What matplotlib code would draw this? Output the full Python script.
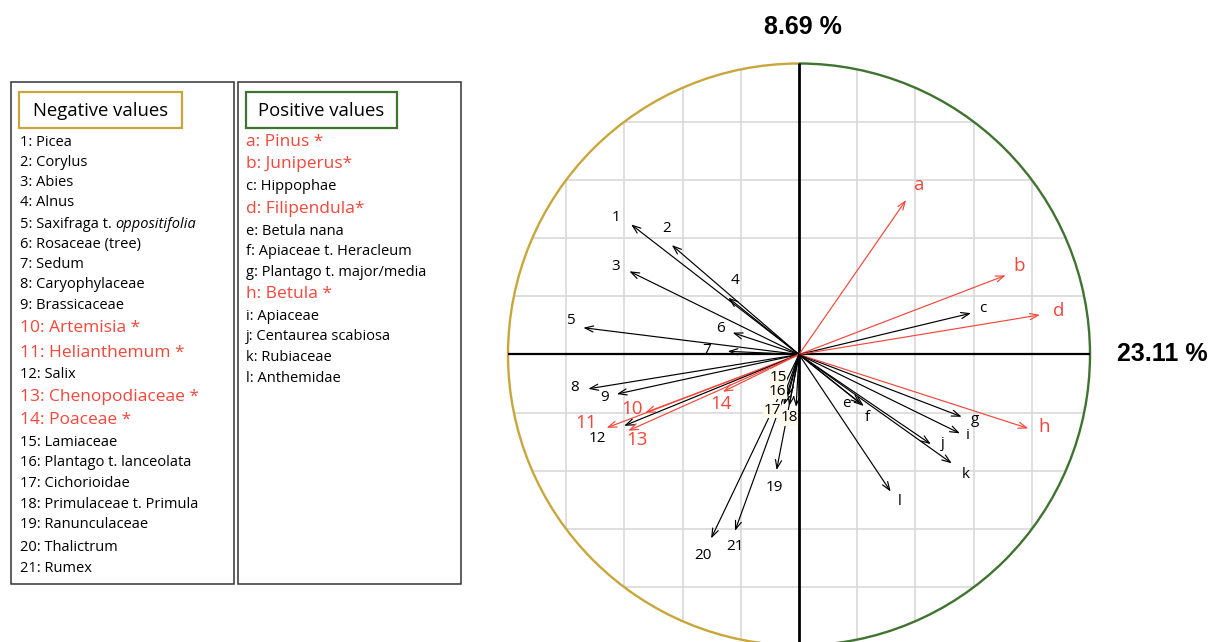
import matplotlib
matplotlib.use("Agg")
import matplotlib.pyplot as plt
from matplotlib.patches import Rectangle, Circle, Arc
import numpy as np

# ---------------- data ----------------
neg_ids = [str(i) for i in range(1, 22)]
neg_names = ["Picea", "Corylus", "Abies", "Alnus", "Saxifraga t. |oppositifolia",
             "Rosaceae (tree)", "Sedum", "Caryophylaceae", "Brassicaceae",
             "Artemisia *", "Helianthemum *", "Salix", "Chenopodiaceae *", "Poaceae *",
             "Lamiaceae", "Plantago t. lanceolata", "Cichorioidae",
             "Primulaceae t. Primula", "Ranunculaceae", "Thalictrum", "Rumex"]
neg_sig = [False]*9 + [True, True, False, True, True] + [False]*7
neg_x = [-0.577, -0.437, -0.583, -0.243, -0.741, -0.228, -0.245, -0.724, -0.626,
         -0.529, -0.661, -0.601, -0.587, -0.262, -0.038, -0.052, -0.034, -0.010,
         -0.077, -0.302, -0.220]
neg_y = [0.447, 0.376, 0.286, 0.195, 0.092, 0.075, 0.011, -0.118, -0.136,
         -0.200, -0.252, -0.245, -0.262, -0.128, -0.143, -0.174, -0.177, -0.180,
         -0.397, -0.632, -0.606]

pos_ids = list("abcdefghijkl")
pos_names = ["Pinus *", "Juniperus*", "Hippophae", "Filipendula*", "Betula nana",
             "Apiaceae t. Heracleum", "Plantago t. major/media", "Betula *",
             "Apiaceae", "Centaurea scabiosa", "Rubiaceae", "Anthemidae"]
pos_sig = [True, True, False, True, False, False, False, True, False, False, False, False]
pos_x = [0.368, 0.710, 0.591, 0.828, 0.213, 0.223, 0.559, 0.788, 0.553, 0.453, 0.525, 0.315]
pos_y = [0.531, 0.272, 0.142, 0.136, -0.170, -0.177, -0.214, -0.254, -0.271, -0.308, -0.374, -0.471]

axis1_label = "23.11 %"
axis2_label = "8.69 %"

# ---------------- layout / style ----------------
# label offsets from arrow tips (pixels, y up)
neg_off = [(-15, 7), (-5, 17), (-14, 5), (7, 17), (-13, 7), (-12, 4), (-21, 1),
           (-14, 1), (-12, -3), (-13, 4), (-21, 5), (-27, -13), (9, -9), (-2, -12),
           (-10, 19), (-6, 14), (-17, -4), (-7, -11), (-2, -17), (-8, -17), (0, -16)]
pos_off = [(12, 15), (14, 9), (12, 5), (19, 4), (-15, 0), (3, -11), (13, -3),
           (16, 1), (8, -2), (12, 1), (14, -11), (9, -10)]

W, H = 1210, 642
R, CX, CY = 291.0, 799.0, 354.5
RED = "#f4473b"
GOLD = "#c9a63b"
GREEN = "#3f7430"
GRID = "#d9d9d9"
FONT = ["Open Sans", "DejaVu Sans"]

plt.rcParams["font.family"] = FONT

fig = plt.figure(figsize=(W/100, H/100), dpi=100)

# ---------------- circle plot ----------------
x0, x1, y0, y1 = -1.35, 1.4, -1.0, 1.22
ax = fig.add_axes([(CX + x0*R)/W, ((H - CY) + y0*R)/H, (x1 - x0)*R/W, (y1 - y0)*R/H])
ax.set_xlim(x0, x1)
ax.set_ylim(y0, y1)
ax.axis("off")

clip = Circle((0, 0), 1.0, transform=ax.transData)
for v in [-0.8, -0.6, -0.4, -0.2, 0.2, 0.4, 0.6, 0.8]:
    l1, = ax.plot([v, v], [-1.2, 1.2], color=GRID, lw=1.2, zorder=1)
    l2, = ax.plot([-1.2, 1.2], [v, v], color=GRID, lw=1.2, zorder=1)
    l1.set_clip_path(clip)
    l2.set_clip_path(clip)

ax.add_patch(Arc((0, 0), 2, 2, theta1=90, theta2=270, color=GOLD, lw=1.7, zorder=2))
ax.add_patch(Arc((0, 0), 2, 2, theta1=-90, theta2=90, color=GREEN, lw=1.7, zorder=2))
ax.plot([-1, 1], [0, 0], color="black", lw=1.6, zorder=3, solid_capstyle="butt")
ax.plot([0, 0], [-1.1, 1.0], color="black", lw=2.0, zorder=3, solid_capstyle="butt",
        clip_on=False)


def draw_vec(x, y, lab, sig, off, small_bg=False):
    col = RED if sig else "black"
    ax.annotate("", xy=(x, y), xytext=(0, 0),
                arrowprops=dict(arrowstyle="->,head_length=0.6,head_width=0.22",
                                color=col, lw=0.85, shrinkA=0, shrinkB=0,
                                mutation_scale=10), zorder=4)
    kw = {}
    if small_bg:
        kw["bbox"] = dict(boxstyle="square,pad=0.02", fc="#fcfaec", ec="none")
    ax.annotate(lab, xy=(x, y), xytext=off, textcoords="offset pixels",
                ha="center", va="center", color=col,
                fontsize=13.5 if sig else 11, zorder=6, **kw)


for i in range(len(neg_x)):
    draw_vec(neg_x[i], neg_y[i], neg_ids[i], neg_sig[i], neg_off[i],
             small_bg=(15 <= i + 1 <= 18))
for i in range(len(pos_x)):
    draw_vec(pos_x[i], pos_y[i], pos_ids[i], pos_sig[i], pos_off[i])

fig.text(803/W, 1 - 27/H, axis2_label, ha="center", va="center", fontsize=18,
         fontweight="bold", family="Liberation Sans")
fig.text(1162.5/W, 1 - 354/H, axis1_label, ha="center", va="center", fontsize=18,
         fontweight="bold", family="Liberation Sans")

# ---------------- legends ----------------
lg = fig.add_axes([0, 0, 1, 1])
lg.set_xlim(0, W)
lg.set_ylim(H, 0)
lg.axis("off")
lg.patch.set_visible(False)

lg.add_patch(Rectangle((10.5, 82), 223, 501.5, fill=False, ec="#333333", lw=1.1))
lg.add_patch(Rectangle((237.5, 82), 223, 501.5, fill=False, ec="#333333", lw=1.1))
lg.add_patch(Rectangle((19, 92), 163, 35.5, fill=False, ec=GOLD, lw=1.6))
lg.add_patch(Rectangle((246, 92), 151, 35.5, fill=False, ec=GREEN, lw=1.6))
lg.text(100.5, 110.5, "Negative values", ha="center", va="center", fontsize=13.3)
lg.text(321.5, 110.5, "Positive values", ha="center", va="center", fontsize=13.3)

neg_rows = [141, 161, 181.5, 201.5, 222.5, 243, 263, 283, 304, 327, 351.5, 372.5,
            395.5, 419, 440.5, 461.5, 482, 502.5, 523.5, 546, 567]
pos_rows = [140, 163, 185, 207.5, 230, 250, 270.5, 292.5, 315, 335, 356, 376.5]
ROW_SHIFT = 1.5


def legend_line(xp, yp, ident, name, sig):
    col = RED if sig else "black"
    fs = 12.5 if sig else 10.5
    yp = yp + ROW_SHIFT
    if "|" in name:
        a, b = name.split("|")
        t = lg.text(xp, yp, f"{ident}: {a}", ha="left", va="center", color=col, fontsize=fs)
        lg.annotate(b, xy=(1, 0.5), xycoords=t, ha="left", va="center", color=col,
                    fontsize=fs, style="italic")
    else:
        lg.text(xp, yp, f"{ident}: {name}", ha="left", va="center", color=col, fontsize=fs)


for i in range(len(neg_names)):
    legend_line(20, neg_rows[i], neg_ids[i], neg_names[i], neg_sig[i])
for i in range(len(pos_names)):
    legend_line(246, pos_rows[i], pos_ids[i], pos_names[i], pos_sig[i])

fig.savefig("out.png", dpi=100)
